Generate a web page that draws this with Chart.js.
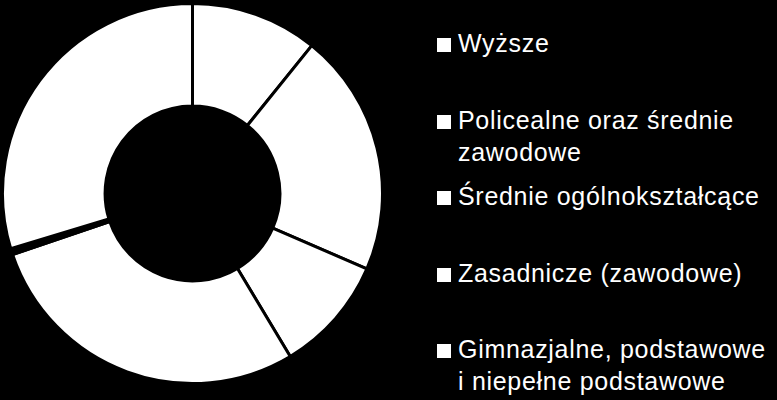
<!DOCTYPE html>
<html>
<head>
<meta charset="utf-8">
<script src="https://cdn.jsdelivr.net/npm/chart.js@4/dist/chart.umd.min.js"></script>
<style>
  html, body { margin: 0; padding: 0; background: #000; }
  body { width: 777px; height: 400px; position: relative; overflow: hidden; }
  #chartBox { position: absolute; left: 1px; top: 2px; width: 383px; height: 383px; }
  #legend {
    position: absolute; left: 437px; top: 27px;
    font-family: "Liberation Sans", Arial, sans-serif;
    font-size: 25px; line-height: 32px; letter-spacing: 0.7px; color: #fff;
  }
  #legend .item { position: relative; height: 76.5px; padding-left: 21px; white-space: nowrap; }
  #legend .box {
    position: absolute; left: 0; top: 11px;
    width: 14px; height: 14px; background: #fff;
  }
</style>
</head>
<body>
<div id="chartBox"><canvas id="educationChart"></canvas></div>
<div id="legend"></div>
<script>
// poziom wykształcenia (udział w %), ostatni wycinek to mała luka bez etykiety
const labels = [
  "Wyższe",
  ["Policealne oraz średnie", "zawodowe"],
  "Średnie ogólnokształcące",
  "Zasadnicze (zawodowe)",
  "",
  ["Gimnazjalne, podstawowe", "i niepełne podstawowe"],
];
const shares = [10.8, 20.7, 9.9, 28.4, 0.5, 29.7];
const sliceColors = ["#ffffff", "#ffffff", "#ffffff", "#ffffff", "#000000", "#ffffff"];

const ctx = document.getElementById("educationChart").getContext("2d");

const educationChart = new Chart(ctx, {
  type: "doughnut",
  data: {
    labels: labels,
    datasets: [
      {
        data: shares,
        backgroundColor: sliceColors,
        borderColor: "#000000",
        borderWidth: 3,
      },
    ],
  },
  options: {
    responsive: true,
    maintainAspectRatio: false,
    animation: false,
    cutout: "46%",
    layout: { padding: 0 },
    plugins: {
      legend: { display: false },
      tooltip: { enabled: false },
    },
  },
});

// legenda w HTML, bez pustej etykiety
const legendEl = document.getElementById("legend");
educationChart.data.labels.forEach((label, i) => {
  if (!label) return;
  const lines = Array.isArray(label) ? label : [label];
  const item = document.createElement("div");
  item.className = "item";
  const box = document.createElement("span");
  box.className = "box";
  item.appendChild(box);
  lines.forEach((line, j) => {
    if (j > 0) item.appendChild(document.createElement("br"));
    item.appendChild(document.createTextNode(line));
  });
  legendEl.appendChild(item);
});
</script>
</body>
</html>
